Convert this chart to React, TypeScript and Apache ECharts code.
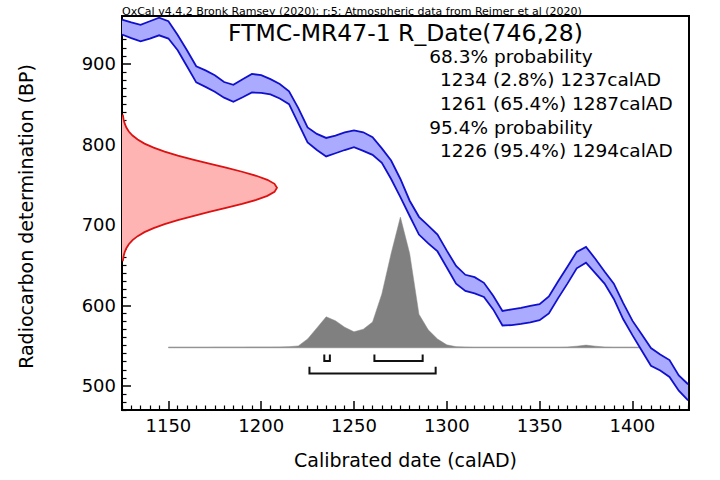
import React, { useEffect, useRef } from "react";
import * as echarts from "echarts";

const FONT = "DejaVu Sans";

const headerText =
  "OxCal v4.4.2 Bronk Ramsey (2020); r:5; Atmospheric data from Reimer et al (2020)";
const titleText = "FTMC-MR47-1 R_Date(746,28)";
const statsLines = [
  "68.3% probability",
  "1234 (2.8%) 1237calAD",
  "1261 (65.4%) 1287calAD",
  "95.4% probability",
  "1226 (95.4%) 1294calAD",
];
const statsIndent = [0, 1, 1, 0, 1];
const xAxisTitle = "Calibrated date (calAD)";
const yAxisTitle = "Radiocarbon determination (BP)";

// calibration curve band (upper / lower edges, BP)
const curveYears = [
  1125, 1130, 1135, 1140, 1145, 1150, 1155, 1160, 1165, 1170, 1175, 1180, 1185, 1190, 1195, 1200,
  1205, 1210, 1215, 1220, 1225, 1230, 1235, 1240, 1245, 1250, 1255, 1260, 1265, 1270, 1275, 1280,
  1285, 1290, 1295, 1300, 1305, 1310, 1315, 1320, 1325, 1330, 1335, 1340, 1345, 1350, 1355, 1360,
  1365, 1370, 1375, 1380, 1385, 1390, 1395, 1400, 1405, 1410, 1415, 1420, 1425, 1430,
];
const curveUpper = [
  955, 951.5, 948.5, 953, 957.5, 953, 936, 917, 897, 892, 886, 877.5, 874, 881, 887.5, 886,
  881, 875, 866, 845, 821, 813, 808, 811, 815, 817.5, 815, 809, 795, 780, 757, 730,
  710, 699, 688, 668, 649, 638, 635, 628, 612, 593, 595, 597, 599.5, 601.5, 611, 630,
  648, 666.5, 672.5, 658, 642, 627, 603, 581, 564, 547, 539, 532, 513, 502,
];
const curveLower = [
  936.5, 932, 928, 931.5, 935.5, 931.5, 917, 897, 877, 871.5, 865.5, 858, 853, 858.5, 864.5, 864,
  862, 857, 850, 826, 802.5, 793, 785, 789, 793, 796.5, 792, 787, 777, 757, 734.5, 711,
  688, 677, 667, 647, 627, 618, 615, 610.5, 595, 575, 575.5, 577, 579, 581.5, 590, 609,
  627, 646, 653, 640, 627, 608, 583, 563, 544, 525, 519, 511, 494, 482,
];

// calibrated probability (relative, peak = 100)
const probYears = [
  1150, 1155, 1160, 1165, 1170, 1175, 1180, 1185, 1190, 1195, 1200, 1205, 1210, 1215, 1220, 1225,
  1230, 1235, 1240, 1245, 1250, 1255, 1260, 1265, 1270, 1275, 1280, 1285, 1290, 1295, 1300, 1305,
  1310, 1315, 1320, 1325, 1330, 1335, 1340, 1345, 1350, 1355, 1360, 1365, 1370, 1375, 1380, 1385,
  1390, 1395, 1400, 1405,
];
const probValues = [
  0.1, 0.1, 0.1, 0.1, 0.1, 0.2, 0.2, 0.2, 0.2, 0.3, 0.3, 0.3, 0.4, 0.6, 1.2, 6.5,
  15, 23.5, 20.5, 15.5, 12, 14, 19.5, 41, 72, 100, 72, 25.5, 13.5, 6.5, 2, 0.6,
  0.3, 0.1, 0.1, 0.1, 0.1, 0.1, 0.1, 0.1, 0.1, 0.1, 0.1, 0.3, 1, 1.8, 1, 0.3,
  0.1, 0.1, 0.1, 0,
];

// radiocarbon determination density (relative, peak = 100)
const rdateBP = [
  656, 661, 666, 671, 676, 681, 686, 691, 696, 701, 706, 711, 716, 721, 726, 731, 736, 741, 746,
  751, 756, 761, 766, 771, 776, 781, 786, 791, 796, 801, 806, 811, 816, 821, 826, 831, 836,
];
const rdateDensity = [
  0.6, 1.0, 1.7, 2.8, 4.4, 6.8, 10.1, 14.5, 20.4, 27.5, 36.0, 45.8, 56.3, 67.1, 77.5, 86.6, 93.8,
  98.4, 100, 98.4, 93.8, 86.6, 77.5, 67.1, 56.3, 45.8, 36.0, 27.5, 20.4, 14.5, 10.1, 6.8, 4.4, 2.8,
  1.7, 1.0, 0.6,
];

const range68 = [
  [1234, 1237],
  [1261, 1287],
];
const range95 = [[1226, 1294]];

const xMajorTicks = [1150, 1200, 1250, 1300, 1350, 1400];
const yMajorTicks = [500, 600, 700, 800, 900];

// layout constants
const X_MIN = 1125;
const X_MAX = 1430.5;
const Y_MIN = 470;
const Y_MAX = 959.5;
const PROB_BASE = 547.7;
const PROB_HEIGHT = 162;
const RDATE_WIDTH = 83.5;
const B68 = { base: 531, top: 539 };
const B95 = { base: 515.4, top: 523.6 };

const xMinorTicks: number[] = [];
for (let v = 1125; v <= 1430; v += 5) if (v % 50 !== 0) xMinorTicks.push(v);
const yMinorTicks: number[] = [];
for (let v = 470; v <= 950; v += 10) if (v % 100 !== 0) yMinorTicks.push(v);

export default function App() {
  const ref = useRef<HTMLDivElement>(null);
  useEffect(() => {
    document.body.style.margin = "0";
    const chart = echarts.init(ref.current!, undefined, { renderer: "svg" });

    const baseAxisX = {
      type: "value",
      min: X_MIN,
      max: X_MAX,
      position: "bottom",
      splitLine: { show: false },
    };
    const baseAxisY = {
      type: "value",
      min: Y_MIN,
      max: Y_MAX,
      position: "left",
      splitLine: { show: false },
    };

    const bracketSeries = (ranges: number[][], lv: { base: number; top: number }) => ({
      type: "custom",
      silent: true,
      xAxisIndex: 0,
      yAxisIndex: 0,
      data: ranges.map((r) => [r[0], r[1]]),
      renderItem: (params: any, api: any) => {
        const a = api.value(0);
        const b = api.value(1);
        const pts = [
          api.coord([a, lv.top]),
          api.coord([a, lv.base]),
          api.coord([b, lv.base]),
          api.coord([b, lv.top]),
        ];
        return {
          type: "polyline",
          shape: { points: pts },
          style: { stroke: "#111", lineWidth: 2, fill: "none" },
        };
      },
    });

    const option: any = {
      animation: false,
      grid: {
        left: 122,
        right: 31,
        top: 16,
        bottom: 70,
        show: true,
        borderColor: "#000",
        borderWidth: 2,
        backgroundColor: "transparent",
      },
      xAxis: [
        {
          ...baseAxisX,
          axisLine: { show: true, onZero: false, lineStyle: { color: "#000", width: 2 } },
          axisTick: {
            show: true,
            inside: true,
            length: 9,
            customValues: xMajorTicks,
            lineStyle: { color: "#000", width: 1.5 },
          },
          axisLabel: {
            customValues: xMajorTicks,
            margin: 6,
            fontFamily: FONT,
            fontSize: 18,
            color: "#000",
            formatter: (v: number) => String(v),
          },
        },
        {
          ...baseAxisX,
          axisLine: { show: false, onZero: false },
          axisTick: {
            show: true,
            inside: true,
            length: 4.5,
            customValues: xMinorTicks,
            lineStyle: { color: "#000", width: 1.2 },
          },
          axisLabel: { show: false },
        },
      ],
      yAxis: [
        {
          ...baseAxisY,
          axisLine: { show: true, onZero: false, lineStyle: { color: "#000", width: 2 } },
          axisTick: {
            show: true,
            inside: true,
            length: 9,
            customValues: yMajorTicks,
            lineStyle: { color: "#000", width: 1.5 },
          },
          axisLabel: {
            customValues: yMajorTicks,
            margin: 6,
            fontFamily: FONT,
            fontSize: 18,
            color: "#000",
            formatter: (v: number) => String(v),
          },
        },
        {
          ...baseAxisY,
          axisLine: { show: false, onZero: false },
          axisTick: {
            show: true,
            inside: true,
            length: 4.5,
            customValues: yMinorTicks,
            lineStyle: { color: "#000", width: 1.2 },
          },
          axisLabel: { show: false },
        },
      ],
      series: [
        {
          type: "custom",
          silent: true,
          xAxisIndex: 0,
          yAxisIndex: 0,
          data: [[1200, 700]],
          renderItem: (params: any, api: any) => {
            const top = probYears.map((yr, i) =>
              api.coord([yr, PROB_BASE + (probValues[i] / 100) * PROB_HEIGHT])
            );
            const b0 = api.coord([probYears[0], PROB_BASE]);
            const b1 = api.coord([probYears[probYears.length - 1], PROB_BASE]);
            return {
              type: "group",
              children: [
                {
                  type: "line",
                  shape: { x1: b0[0], y1: b0[1], x2: b1[0], y2: b1[1] },
                  style: { stroke: "#b4b4b4", lineWidth: 1.6 },
                },
                {
                  type: "polygon",
                  shape: { points: [b0, ...top, b1] },
                  style: { fill: "#808080", stroke: "#8a8a8a", lineWidth: 0.5 },
                },
              ],
            };
          },
        },
        {
          type: "custom",
          silent: true,
          xAxisIndex: 0,
          yAxisIndex: 0,
          data: [[1200, 700]],
          renderItem: (params: any, api: any) => {
            const up = curveYears.map((yr, i) => api.coord([yr, curveUpper[i]]));
            const lo = curveYears.map((yr, i) => api.coord([yr, curveLower[i]]));
            return {
              type: "group",
              children: [
                {
                  type: "polygon",
                  shape: { points: up.concat(lo.slice().reverse()) },
                  style: { fill: "#aaaaff", stroke: "none" },
                },
                {
                  type: "polyline",
                  shape: { points: up },
                  style: { stroke: "#1010cc", lineWidth: 1.8, fill: "none" },
                },
                {
                  type: "polyline",
                  shape: { points: lo },
                  style: { stroke: "#1010cc", lineWidth: 1.8, fill: "none" },
                },
              ],
            };
          },
        },
        {
          type: "custom",
          silent: true,
          xAxisIndex: 0,
          yAxisIndex: 0,
          data: [[1200, 700]],
          renderItem: (params: any, api: any) => {
            const pts = rdateBP.map((bp, i) =>
              api.coord([X_MIN + (rdateDensity[i] / 100) * RDATE_WIDTH, bp])
            );
            const s = api.coord([X_MIN, rdateBP[0]]);
            const e = api.coord([X_MIN, rdateBP[rdateBP.length - 1]]);
            return {
              type: "group",
              children: [
                {
                  type: "polygon",
                  shape: { points: [s, ...pts, e] },
                  style: { fill: "#ffb4b4", stroke: "none" },
                },
                {
                  type: "polyline",
                  shape: { points: [s, ...pts, e] },
                  style: { stroke: "#dd1111", lineWidth: 1.8, fill: "none" },
                },
              ],
            };
          },
        },
        bracketSeries(range68, B68),
        bracketSeries(range95, B95),
      ],
      graphic: [
        {
          type: "text",
          x: 122,
          y: 11.2,
          silent: true,
          style: {
            text: headerText,
            fontFamily: FONT,
            fontSize: 11,
            fill: "#000",
            align: "left",
            verticalAlign: "middle",
          },
        },
        {
          type: "text",
          x: 405.5,
          y: 32.6,
          silent: true,
          style: {
            text: titleText,
            fontFamily: FONT,
            fontSize: 23.5,
            fill: "#000",
            align: "center",
            verticalAlign: "middle",
          },
        },
        ...statsLines.map((t, i) => ({
          type: "text",
          x: statsIndent[i] ? 440 : 429.3,
          y: 56.3 + i * 23.6,
          silent: true,
          style: {
            text: t,
            fontFamily: FONT,
            fontSize: 18.5,
            fill: "#000",
            align: "left",
            verticalAlign: "middle",
          },
        })),
        {
          type: "text",
          x: 405.5,
          y: 460.4,
          silent: true,
          style: {
            text: xAxisTitle,
            fontFamily: FONT,
            fontSize: 19,
            fill: "#000",
            align: "center",
            verticalAlign: "middle",
          },
        },
        {
          type: "text",
          x: 26,
          y: 216.5,
          rotation: Math.PI / 2,
          silent: true,
          style: {
            text: yAxisTitle,
            fontFamily: FONT,
            fontSize: 19,
            fill: "#000",
            align: "center",
            verticalAlign: "middle",
          },
        },
      ],
    };
    chart.setOption(option);
    return () => chart.dispose();
  }, []);
  return <div ref={ref} style={{ width: 720, height: 480 }} />;
}
